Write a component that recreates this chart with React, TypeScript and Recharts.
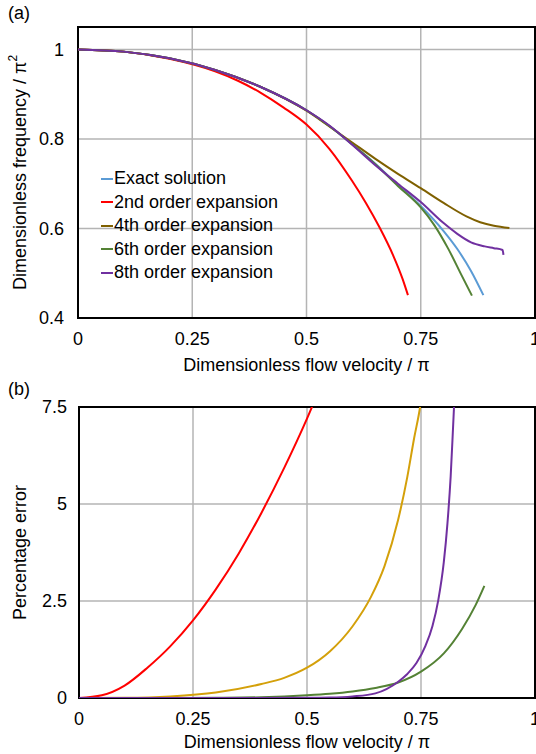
import React from "react";
import {
  CartesianGrid,
  Label,
  Legend,
  Line,
  LineChart,
  ReferenceArea,
  XAxis,
  YAxis,
} from "recharts";

const FONT = "'Liberation Sans', Arial, sans-serif";

// (a) dimensionless frequency / pi^2 against flow velocity / pi
const exactX = [0, 0.1, 0.2, 0.3, 0.4, 0.5, 0.55, 0.6, 0.65, 0.7, 0.75, 0.8, 0.83, 0.86, 0.887];
const exactY = [1, 0.995, 0.98, 0.954, 0.916, 0.864, 0.829, 0.788, 0.745, 0.697, 0.65, 0.594, 0.554, 0.505, 0.451];

const order2X = [0, 0.1, 0.2, 0.3, 0.35, 0.4, 0.45, 0.5, 0.55, 0.6, 0.63, 0.66, 0.69, 0.71, 0.722];
const order2Y = [1, 0.995, 0.979, 0.951, 0.93, 0.903, 0.87, 0.832, 0.778, 0.706, 0.657, 0.602, 0.539, 0.488, 0.451];

const order4X = [0, 0.1, 0.2, 0.3, 0.4, 0.5, 0.55, 0.6, 0.65, 0.7, 0.75, 0.8, 0.85, 0.88, 0.91, 0.944];
const order4Y = [1, 0.995, 0.98, 0.954, 0.916, 0.863, 0.828, 0.792, 0.756, 0.722, 0.69, 0.657, 0.627, 0.614, 0.606, 0.601];

const order6X = [0, 0.1, 0.2, 0.3, 0.4, 0.5, 0.55, 0.6, 0.65, 0.7, 0.75, 0.78, 0.81, 0.84, 0.862];
const order6Y = [1, 0.995, 0.98, 0.954, 0.916, 0.864, 0.829, 0.788, 0.744, 0.695, 0.647, 0.607, 0.555, 0.494, 0.45];

const order8X = [0, 0.1, 0.2, 0.3, 0.4, 0.5, 0.55, 0.6, 0.65, 0.7, 0.75, 0.8, 0.83, 0.86, 0.89, 0.91, 0.929, 0.931];
const order8Y = [1, 0.995, 0.98, 0.954, 0.916, 0.864, 0.83, 0.787, 0.742, 0.7, 0.659, 0.612, 0.588, 0.569, 0.56, 0.556, 0.552, 0.541];

// (b) percentage error against flow velocity / pi
const err2X = [0, 0.05, 0.1, 0.15, 0.2, 0.25, 0.3, 0.35, 0.4, 0.45, 0.5, 0.52];
const err2Y = [0, 0.07, 0.32, 0.78, 1.33, 2.0, 2.8, 3.72, 4.77, 5.93, 7.2, 7.75];

const err4X = [0, 0.1, 0.2, 0.3, 0.4, 0.45, 0.5, 0.55, 0.6, 0.64, 0.67, 0.7, 0.72, 0.735, 0.748, 0.755];
const err4Y = [0, 0.005, 0.04, 0.14, 0.36, 0.52, 0.78, 1.2, 1.85, 2.6, 3.4, 4.6, 5.7, 6.7, 7.5, 8.1];

const err6X = [0, 0.2, 0.3, 0.4, 0.5, 0.55, 0.6, 0.65, 0.7, 0.75, 0.8, 0.84, 0.87, 0.889];
const err6Y = [0, 0, 0.005, 0.02, 0.07, 0.11, 0.17, 0.26, 0.4, 0.68, 1.15, 1.78, 2.4, 2.89];

const err8X = [0, 0.3, 0.5, 0.55, 0.6, 0.65, 0.7, 0.72, 0.74, 0.76, 0.775, 0.788, 0.8, 0.808, 0.815, 0.82, 0.824];
const err8Y = [0, 0, 0.004, 0.01, 0.04, 0.12, 0.42, 0.62, 0.9, 1.35, 1.85, 2.53, 3.5, 4.5, 5.7, 6.9, 7.9];

const xTicks = [0, 0.25, 0.5, 0.75, 1];
const freqTicks = [0.4, 0.6, 0.8, 1];
const errTicks = [0, 2.5, 5, 7.5];

const legendItems = [
  { name: "Exact solution", color: "#5b9bd5" },
  { name: "2nd order expansion", color: "#ff0000" },
  { name: "4th order expansion", color: "#7f6000" },
  { name: "6th order expansion", color: "#548235" },
  { name: "8th order expansion", color: "#7030a0" },
];

const pts = (xs: number[], ys: number[]) => xs.map((x, i) => ({ x, y: ys[i] }));

const tickStyle = { fontSize: 18, fill: "#000", fontFamily: FONT };

// drawn in the series order, not sorted by name
function LegendBox() {
  return (
    <div style={{ fontFamily: FONT, fontSize: 18, color: "#000" }}>
      {legendItems.map((p) => (
        <div key={p.name} style={{ display: "flex", alignItems: "center", height: 23.5, whiteSpace: "nowrap" }}>
          <span style={{ width: 12, height: 2, background: p.color, marginRight: 1 }} />
          <span>{p.name}</span>
        </div>
      ))}
    </div>
  );
}

export default function App() {
  return (
    <div style={{ position: "absolute", left: 0, top: 0, width: 536, height: 754, background: "#fff", fontFamily: FONT }}>
      <LineChart width={536} height={380} margin={{ top: 27, right: 1, left: 0, bottom: 0 }}>
        <CartesianGrid stroke="#b4b4b4" strokeWidth={1.5} />
        <XAxis
          type="number"
          dataKey="x"
          domain={[0, 1]}
          ticks={xTicks}
          interval={0}
          height={62}
          tickSize={0}
          tickMargin={14}
          axisLine={false}
          tick={tickStyle}
        >
          <Label
            content={() => (
              <g fontFamily={FONT} fontSize={18} fill="#000">
                <text x={306.5} y={371} textAnchor="middle">Dimensionless flow velocity / π</text>
                <text x={8} y={18.5}>(a)</text>
              </g>
            )}
          />
        </XAxis>
        <YAxis
          type="number"
          domain={[0.4, 1.05]}
          ticks={freqTicks}
          width={78}
          tickSize={0}
          tickMargin={14}
          axisLine={false}
          tick={tickStyle}
        >
          <Label
            content={() => (
              <text
                x={20}
                y={172.5}
                transform="rotate(-90, 20, 172.5)"
                textAnchor="middle"
                dominantBaseline="central"
                fontFamily={FONT}
                fontSize={18}
                fill="#000"
              >
                Dimensionless frequency / π<tspan dy={-7} fontSize={12}>2</tspan>
              </text>
            )}
          />
        </YAxis>
        <ReferenceArea x1={0} x2={1} y1={0.4} y2={1.05} fill="none" stroke="#000" strokeWidth={2} ifOverflow="visible" />
        <Legend
          layout="vertical"
          align="center"
          verticalAlign="middle"
          wrapperStyle={{ left: 101, top: 167, width: 200 }}
          content={<LegendBox />}
        />
        <Line data={pts(exactX, exactY)} dataKey="y" name="Exact solution" type="monotone" stroke="#5b9bd5" strokeWidth={2} dot={false} isAnimationActive={false} />
        <Line data={pts(order2X, order2Y)} dataKey="y" name="2nd order expansion" type="monotone" stroke="#ff0000" strokeWidth={2} dot={false} isAnimationActive={false} />
        <Line data={pts(order4X, order4Y)} dataKey="y" name="4th order expansion" type="monotone" stroke="#7f6000" strokeWidth={2} dot={false} isAnimationActive={false} />
        <Line data={pts(order6X, order6Y)} dataKey="y" name="6th order expansion" type="monotone" stroke="#548235" strokeWidth={2} dot={false} isAnimationActive={false} />
        <Line data={pts(order8X, order8Y)} dataKey="y" name="8th order expansion" type="monotone" stroke="#7030a0" strokeWidth={2} dot={false} isAnimationActive={false} />
      </LineChart>

      <LineChart width={536} height={374} margin={{ top: 27, right: 1, left: 0, bottom: 0 }}>
        <CartesianGrid stroke="#b4b4b4" strokeWidth={1.5} />
        <XAxis
          type="number"
          dataKey="x"
          domain={[0, 1]}
          ticks={xTicks}
          interval={0}
          height={56}
          tickSize={0}
          tickMargin={14}
          axisLine={false}
          allowDataOverflow
          tick={tickStyle}
        >
          <Label
            content={() => (
              <g fontFamily={FONT} fontSize={18} fill="#000">
                <text x={307} y={368} textAnchor="middle">Dimensionless flow velocity / π</text>
                <text x={8} y={15}>(b)</text>
              </g>
            )}
          />
        </XAxis>
        <YAxis
          type="number"
          domain={[0, 7.5]}
          ticks={errTicks}
          width={79}
          tickSize={0}
          tickMargin={12}
          axisLine={false}
          allowDataOverflow
          tick={tickStyle}
        >
          <Label
            content={() => (
              <text
                x={20}
                y={172.5}
                transform="rotate(-90, 20, 172.5)"
                textAnchor="middle"
                dominantBaseline="central"
                fontFamily={FONT}
                fontSize={18}
                fill="#000"
              >
                Percentage error
              </text>
            )}
          />
        </YAxis>
        <ReferenceArea x1={0} x2={1} y1={0} y2={7.5} fill="none" stroke="#000" strokeWidth={2} ifOverflow="visible" />
        <Line data={pts(err2X, err2Y)} dataKey="y" name="2nd order expansion" type="monotone" stroke="#ff0000" strokeWidth={2} dot={false} isAnimationActive={false} />
        <Line data={pts(err4X, err4Y)} dataKey="y" name="4th order expansion" type="monotone" stroke="#d4a00a" strokeWidth={2} dot={false} isAnimationActive={false} />
        <Line data={pts(err6X, err6Y)} dataKey="y" name="6th order expansion" type="monotone" stroke="#548235" strokeWidth={2} dot={false} isAnimationActive={false} />
        <Line data={pts(err8X, err8Y)} dataKey="y" name="8th order expansion" type="monotone" stroke="#7030a0" strokeWidth={2} dot={false} isAnimationActive={false} />
      </LineChart>
    </div>
  );
}
